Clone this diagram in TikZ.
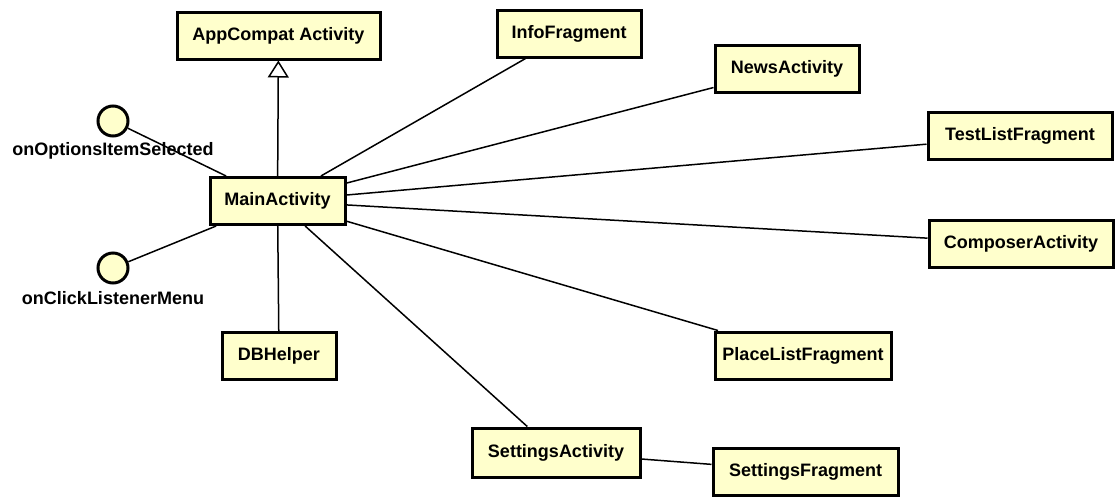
\documentclass[tikz,border=0pt]{standalone}
\usepackage{fontspec}
\setmainfont{Liberation Sans}
\usetikzlibrary{arrows.meta}
\definecolor{classfill}{RGB}{255,255,204}
\tikzset{
  classbox/.style={draw=black, line width=3pt, fill=classfill, inner sep=0pt,
    minimum height=47pt, font=\fontsize{18}{21}\selectfont\bfseries},
  iface/.style={circle, draw=black, line width=3pt, fill=classfill, inner sep=0pt,
    minimum size=30pt},
  ifacelabel/.style={inner sep=0pt, font=\fontsize{18}{21}\selectfont\bfseries},
  assoc/.style={line width=1.5pt, draw=black},
  inherit/.style={line width=1.5pt, draw=black,
    -{Triangle[fill=white, length=17pt, width=21pt, line width=1.5pt]}}
}
\begin{document}
\begin{tikzpicture}[x=1pt, y=-1pt]
\useasboundingbox (0,0) rectangle (1116,496);

% classes
\node[classbox, minimum width=203pt] (app)   at (278.5,35.5) {AppCompat Activity};
\node[classbox, minimum width=144pt] (info)  at (569,33.5)   {InfoFragment};
\node[classbox, minimum width=144pt] (news)  at (787,68.5)   {NewsActivity};
\node[classbox, minimum width=184pt] (test)  at (1020,136)   {TestListFragment};
\node[classbox, minimum width=184pt] (comp)  at (1021,243.5) {ComposerActivity};
\node[classbox, minimum width=135pt] (main)  at (277.5,201)  {MainActivity};
\node[classbox, minimum width=114pt] (db)    at (279,356)    {DBHelper};
\node[classbox, minimum width=176pt] (place) at (803,355.5)  {PlaceListFragment};
\node[classbox, minimum width=168pt, minimum height=49pt] (seta) at (556,452.5) {SettingsActivity};
\node[classbox, minimum width=185pt] (setf)  at (805.5,471.5) {SettingsFragment};

% provided interfaces
\node[iface] (opt) at (113,121) {};
\node[ifacelabel] (optlbl) at (113,151) {onOptionsItemSelected};
\node[iface] (clk) at (113,268) {};
\node[ifacelabel] (clklbl) at (113,298) {onClickListenerMenu};

% generalization
\draw[inherit] (main) -- (app);

% associations
\draw[assoc] (opt) -- (main);
\draw[assoc] (clk) -- (main);
\draw[assoc] (main) -- (db);
\draw[assoc] (main) -- (info);
\draw[assoc] (main) -- (news);
\draw[assoc] (main) -- (test);
\draw[assoc] (main) -- (comp);
\draw[assoc] (main) -- (place);
\draw[assoc] (main) -- (seta);
\draw[assoc] (seta) -- (setf);
\end{tikzpicture}
\end{document}
